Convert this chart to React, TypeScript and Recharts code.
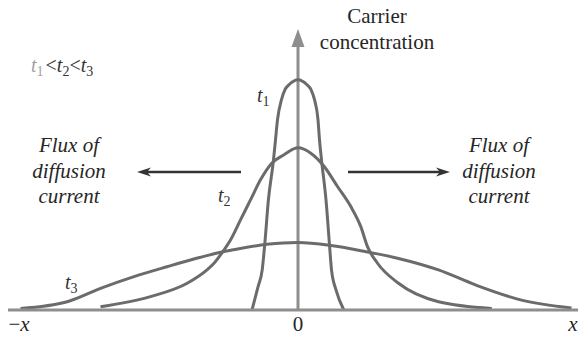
import { LineChart, Line, XAxis, YAxis, ReferenceLine, Customized } from 'recharts';

const SERIF = "'Liberation Serif', 'Times New Roman', serif";
const CURVE = '#6b6b6b';
const AXIS = '#8e8e8e';
const INK = '#262626';

// position along x (arbitrary distance units) and carrier concentration, per time
const t1Pos = [-46, -40, -35.8, -33.3, -29.6, -24.5, -22.5, -20.5, -16.5, -13, -9, 0, 9, 13, 16.5, 20, 21.5, 23.5, 28, 31.5, 33.5, 38, 45.8];
const t1Conc = [0, 0.1, 0.174, 0.283, 0.478, 0.652, 0.739, 0.826, 0.913, 0.957, 0.978, 1.0, 0.978, 0.957, 0.913, 0.826, 0.739, 0.652, 0.478, 0.283, 0.174, 0.087, 0];

const t2Pos = [-197.5, -147.5, -110.8, -91, -84, -74, -67.5, -57.5, -47.5, -37.5, -26, -14, 0, 12.8, 26.2, 39.5, 52.8, 62.8, 69.5, 79.5, 100.5, 140.5, 193.8];
const t2Conc = [0.014, 0.058, 0.116, 0.174, 0.203, 0.261, 0.304, 0.391, 0.478, 0.565, 0.638, 0.674, 0.704, 0.681, 0.623, 0.536, 0.449, 0.362, 0.275, 0.203, 0.116, 0.036, 0.007];

const t3Pos = [-277.5, -230.8, -197.5, -164, -131, -97.5, -76, -64, -31, 0, 33, 66, 99.5, 140.5, 177.5, 223.5, 273.5];
const t3Conc = [0.007, 0.036, 0.094, 0.145, 0.188, 0.229, 0.252, 0.262, 0.285, 0.293, 0.28, 0.255, 0.225, 0.174, 0.109, 0.043, 0.009];

const xTicks = [-279, 0, 275];
const xTickLabels = ['−x', '0', 'x'];

// flux arrows: [tail, tip] positions at a fixed height
const fluxLevel = 0.599;
const fluxLeft = [-57, -161];
const fluxRight = [50, 152];

const toPoints = (pos: number[], conc: number[]) => pos.map((x, i) => ({ x, c: conc[i] }));

const t1Data = toPoints(t1Pos, t1Conc);
const t2Data = toPoints(t2Pos, t2Conc);
const t3Data = toPoints(t3Pos, t3Conc);

const serif = { fontFamily: SERIF };

function XTick({ x, y, payload }: any) {
  const label = xTickLabels[xTicks.indexOf(payload.value)] ?? '';
  const italic = label.endsWith('x');
  return (
    <text x={x} y={y + 13} textAnchor="middle" style={serif} fontSize={21} fill={INK}>
      {italic ? (
        <>
          {label.slice(0, -1)}
          <tspan fontStyle="italic">x</tspan>
        </>
      ) : (
        label
      )}
    </text>
  );
}

function AxisArrow(props: any) {
  const { x1, y1, y2 } = props;
  const top = Math.min(y1, y2);
  const bottom = Math.max(y1, y2);
  return (
    <g>
      <line x1={x1} x2={x1} y1={top + 16} y2={bottom} stroke={AXIS} strokeWidth={3} />
      <polygon points={`${x1},${top} ${x1 - 6.5},${top + 18} ${x1 + 6.5},${top + 18}`} fill={AXIS} />
    </g>
  );
}

function FluxArrow(props: any) {
  const { x1, y1, x2 } = props;
  const d = Math.sign(x2 - x1);
  const back = x2 - d * 14;
  const notch = x2 - d * 10;
  return (
    <g>
      <line x1={x1} y1={y1} x2={notch} y2={y1} stroke="#333" strokeWidth={2.6} />
      <polygon points={`${x2},${y1} ${back},${y1 - 4.5} ${notch},${y1} ${back},${y1 + 4.5}`} fill="#333" />
    </g>
  );
}

function TimeLabel({ x, y, n }: { x: number; y: number; n: number }) {
  return (
    <text x={x} y={y} style={serif} fontSize={20} fill="#333">
      <tspan fontStyle="italic">t</tspan>
      <tspan fontSize={14} dy={4}>{n}</tspan>
    </text>
  );
}

function Annotations() {
  const flux = ['Flux of', 'diffusion', 'current'];
  return (
    <g>
      <text x={377} y={23} textAnchor="middle" style={serif} fontSize={21} fill={INK}>Carrier</text>
      <text x={377} y={49} textAnchor="middle" style={serif} fontSize={21} fill={INK}>concentration</text>

      {flux.map((s, i) => (
        <text key={'l' + i} x={69} y={152 + i * 25.5} textAnchor="middle" style={serif} fontSize={21} fontStyle="italic" fill={INK}>{s}</text>
      ))}
      {flux.map((s, i) => (
        <text key={'r' + i} x={499} y={152 + i * 25.5} textAnchor="middle" style={serif} fontSize={21} fontStyle="italic" fill={INK}>{s}</text>
      ))}

      <text x={31} y={71.5} style={serif} fontSize={20} fill="#333">
        <tspan fontStyle="italic" fill="#a0a0a0">t</tspan>
        <tspan fontSize={14} dy={4} fill="#a0a0a0">1</tspan>
        <tspan dy={-4} dx={2}>{'<'}</tspan>
        <tspan fontStyle="italic">t</tspan>
        <tspan fontSize={14} dy={4}>2</tspan>
        <tspan dy={-4}>{'<'}</tspan>
        <tspan fontStyle="italic">t</tspan>
        <tspan fontSize={14} dy={4}>3</tspan>
      </text>

      <TimeLabel x={257} y={101.5} n={1} />
      <TimeLabel x={218} y={201.5} n={2} />
      <TimeLabel x={65} y={289} n={3} />
    </g>
  );
}

export default function App() {
  return (
    <div style={{ position: 'absolute', left: 0, top: 0, width: 578, height: 337, background: '#fff' }}>
      <LineChart width={578} height={337} margin={{ top: 29, right: 0, bottom: 0, left: 8 }}>
        <XAxis
          type="number"
          dataKey="x"
          domain={[-290, 280]}
          ticks={xTicks}
          interval={0}
          height={27}
          tickLine={false}
          axisLine={{ stroke: AXIS, strokeWidth: 3 }}
          tick={<XTick />}
        />
        <YAxis hide type="number" domain={[0, 1.22]} />
        <ReferenceLine x={0} shape={<AxisArrow />} />
        <ReferenceLine
          segment={[{ x: fluxLeft[0], y: fluxLevel }, { x: fluxLeft[1], y: fluxLevel }]}
          shape={<FluxArrow />}
        />
        <ReferenceLine
          segment={[{ x: fluxRight[0], y: fluxLevel }, { x: fluxRight[1], y: fluxLevel }]}
          shape={<FluxArrow />}
        />
        <Line data={t3Data} dataKey="c" type="monotone" stroke={CURVE} strokeWidth={3} dot={false} isAnimationActive={false} />
        <Line data={t2Data} dataKey="c" type="monotone" stroke={CURVE} strokeWidth={3} dot={false} isAnimationActive={false} />
        <Line data={t1Data} dataKey="c" type="monotone" stroke={CURVE} strokeWidth={3} dot={false} isAnimationActive={false} />
        <Customized component={<Annotations />} />
      </LineChart>
    </div>
  );
}
